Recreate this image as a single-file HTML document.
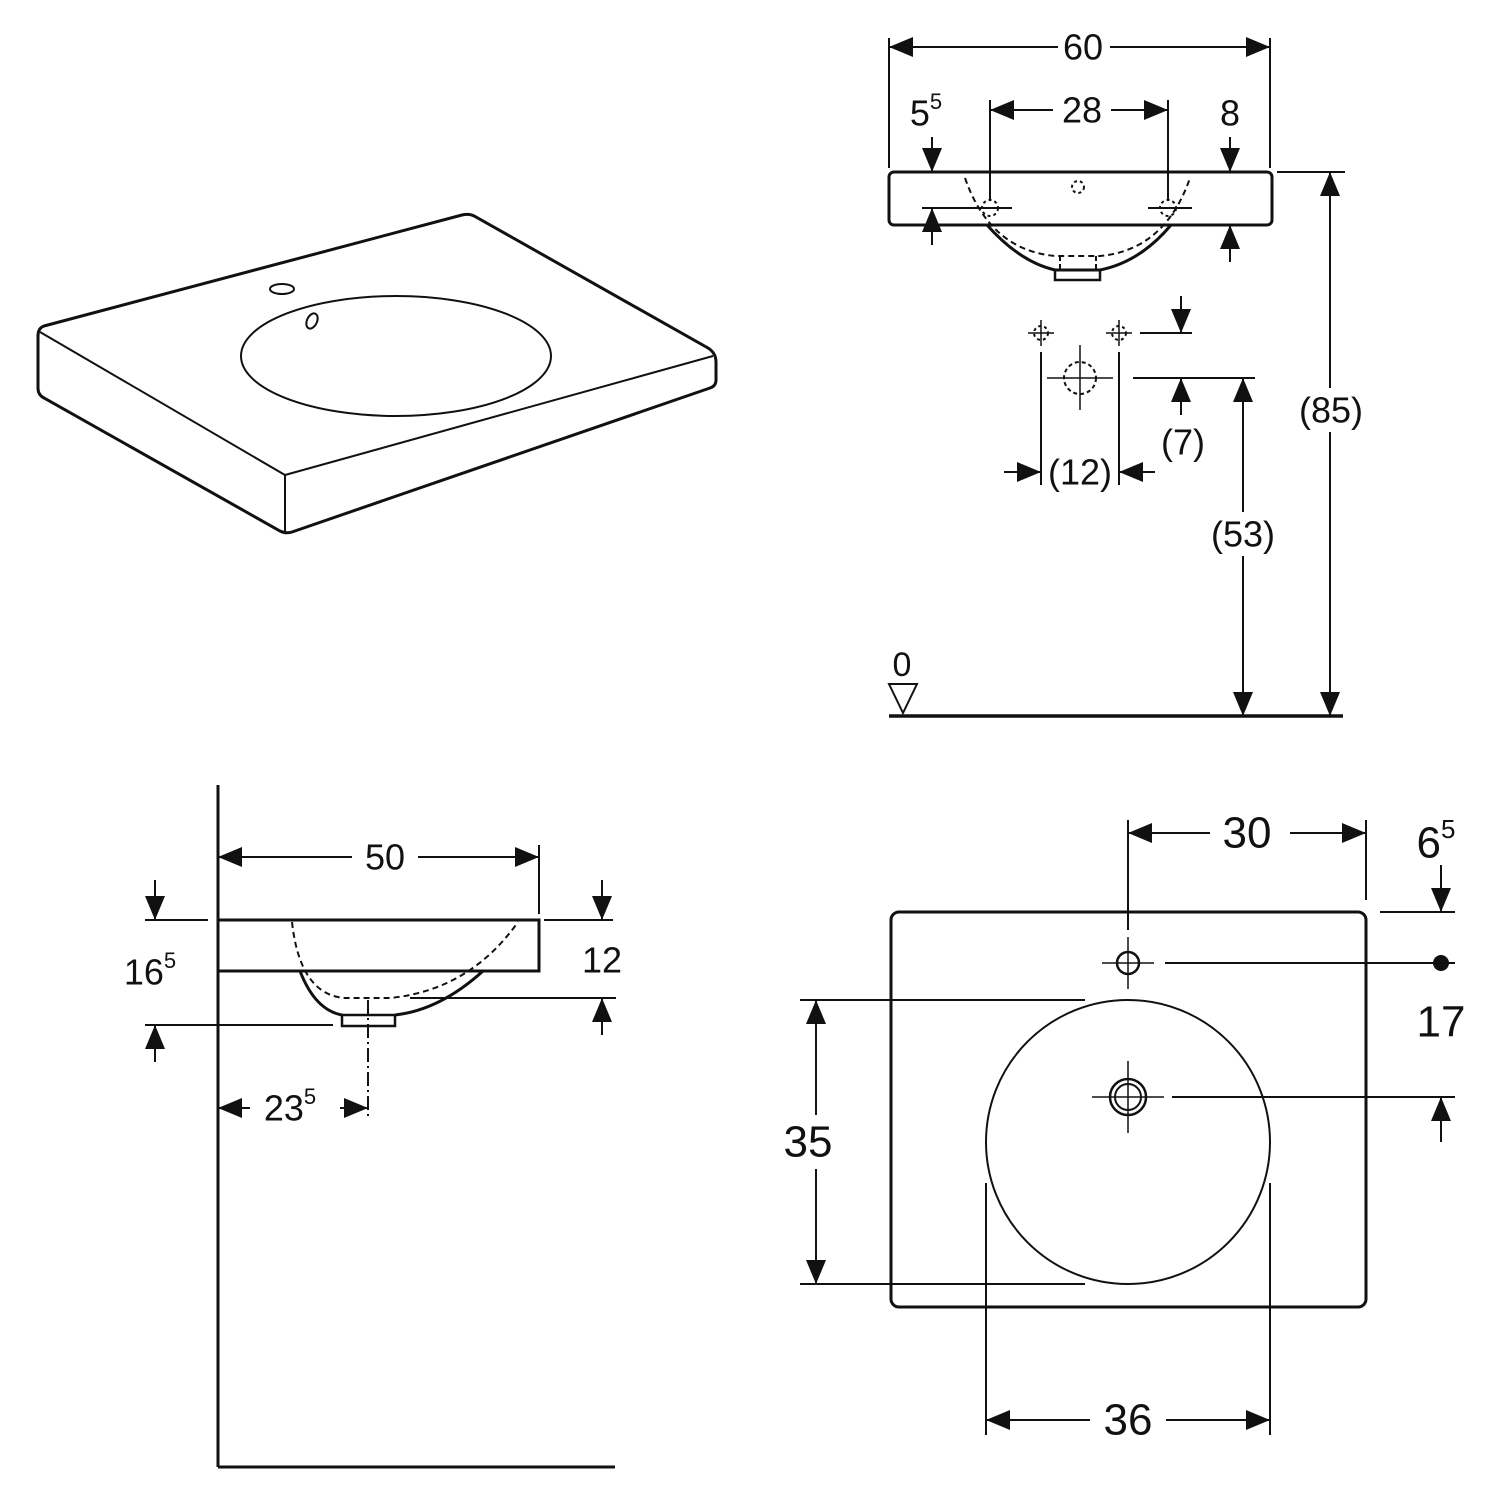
<!DOCTYPE html>
<html><head><meta charset="utf-8"><style>
html,body{margin:0;padding:0;background:#fff}
svg{display:block}
text{font-family:"Liberation Sans",sans-serif;fill:#111;text-anchor:middle;dominant-baseline:central}
</style></head><body>
<svg width="1500" height="1500" viewBox="0 0 1500 1500" xmlns="http://www.w3.org/2000/svg">
<defs>
<marker id="a" markerUnits="userSpaceOnUse" markerWidth="26" markerHeight="22" refX="24" refY="10" orient="auto-start-reverse"><path d="M0,0 L24,10 L0,20 z" fill="#111"/></marker>
</defs>
<g stroke="#111" fill="none" stroke-width="2">
<!-- isometric -->
<path d="M44,326 L462,215 Q470,213 476,217 L708,348 Q716,353 716,362 L716,380 Q716,386 710,388 L292,532 Q286,534 280,531 L44,398 Q38,395 38,388 L38,336 Q38,328 44,326 Z" stroke-width="3"/>
<path d="M40,332 L285,475 L713,356" />
<path d="M285,475 L285,533"/>
<ellipse cx="396" cy="356" rx="155" ry="60"/>
<ellipse cx="282" cy="289" rx="12" ry="5"/>
<ellipse cx="312" cy="321" rx="5" ry="8" transform="rotate(25 312 321)"/>

<!-- front view -->
<rect x="889" y="172" width="383" height="53" rx="5" stroke-width="3"/>
<path d="M987,225 Q1020,262 1055,270 L1100,270 Q1140,262 1171,225" stroke-width="3"/>
<rect x="1055" y="270" width="45" height="10" stroke-width="2.5"/>
<path d="M965,178 Q990,250 1055,256 L1100,256 Q1165,250 1190,178" stroke-dasharray="6,4"/>
<path d="M1060,256 V270 M1096,256 V270" stroke-dasharray="5,3"/>
<circle cx="1078" cy="187" r="6" stroke-dasharray="3,3"/>
<line x1="889" y1="38" x2="889" y2="168"/><line x1="1270" y1="38" x2="1270" y2="168"/>
<line x1="889" y1="47" x2="1270" y2="47" marker-start="url(#a)" marker-end="url(#a)"/>
<line x1="990" y1="100" x2="990" y2="200"/><line x1="1168" y1="100" x2="1168" y2="200"/>
<line x1="990" y1="110" x2="1168" y2="110" marker-start="url(#a)" marker-end="url(#a)"/>
<line x1="932" y1="137" x2="932" y2="172" marker-end="url(#a)"/>
<line x1="932" y1="245" x2="932" y2="208" marker-end="url(#a)"/>
<line x1="922" y1="208" x2="1012" y2="208"/>
<line x1="1148" y1="208" x2="1192" y2="208"/>
<line x1="1230" y1="137" x2="1230" y2="172" marker-end="url(#a)"/>
<line x1="1230" y1="262" x2="1230" y2="225" marker-end="url(#a)"/>
<circle cx="990" cy="208" r="8" stroke-dasharray="3,3"/><circle cx="1168" cy="208" r="8" stroke-dasharray="3,3"/>
<line x1="1277" y1="172" x2="1345" y2="172"/>
<line x1="1330" y1="172" x2="1330" y2="716" marker-start="url(#a)" marker-end="url(#a)"/>
<line x1="889" y1="716" x2="1343" y2="716" stroke-width="3.5"/>
<path d="M889,684 L917,684 L903,713 Z"/>
<line x1="1133" y1="378" x2="1255" y2="378"/>
<line x1="1243" y1="378" x2="1243" y2="716" marker-start="url(#a)" marker-end="url(#a)"/>
<line x1="1181" y1="296" x2="1181" y2="333" marker-end="url(#a)"/>
<line x1="1140" y1="333" x2="1192" y2="333"/>
<line x1="1181" y1="415" x2="1181" y2="378" marker-end="url(#a)"/>
<circle cx="1041" cy="333" r="7" stroke-dasharray="3,3"/><path d="M1028,333 H1054 M1041,320 V346" stroke-width="1.5"/>
<circle cx="1119" cy="333" r="7" stroke-dasharray="3,3"/><path d="M1106,333 H1132 M1119,320 V346" stroke-width="1.5"/>
<circle cx="1080" cy="378" r="16" stroke-dasharray="4,3"/><path d="M1047,378 H1113 M1080,345 V410" stroke-width="1.5"/>
<line x1="1041" y1="352" x2="1041" y2="485"/><line x1="1119" y1="352" x2="1119" y2="485"/>
<line x1="1004" y1="472" x2="1041" y2="472" marker-end="url(#a)"/>
<line x1="1155" y1="472" x2="1119" y2="472" marker-end="url(#a)"/>

<!-- side view -->
<line x1="218" y1="785" x2="218" y2="1467" stroke-width="3"/>
<line x1="218" y1="1467" x2="615" y2="1467" stroke-width="3"/>
<rect x="218" y="920" width="321" height="51" stroke-width="3"/>
<path d="M300,971 Q315,1010 342,1015 M395,1015 Q440,1010 483,971" stroke-width="3"/>
<rect x="342" y="1015" width="53" height="11" stroke-width="2.5"/>
<path d="M292,922 Q300,995 345,998 L390,998 Q470,990 518,922" stroke-dasharray="6,4"/>
<line x1="368" y1="1000" x2="368" y2="1118" stroke-dasharray="14,4,2,4"/>
<line x1="539" y1="845" x2="539" y2="914"/>
<line x1="218" y1="857" x2="539" y2="857" marker-start="url(#a)" marker-end="url(#a)"/>
<line x1="155" y1="880" x2="155" y2="920" marker-end="url(#a)"/>
<line x1="145" y1="920" x2="208" y2="920"/>
<line x1="155" y1="1062" x2="155" y2="1025" marker-end="url(#a)"/>
<line x1="145" y1="1025" x2="333" y2="1025"/>
<line x1="602" y1="880" x2="602" y2="920" marker-end="url(#a)"/>
<line x1="544" y1="920" x2="613" y2="920"/>
<line x1="602" y1="1035" x2="602" y2="998" marker-end="url(#a)"/>
<line x1="410" y1="998" x2="616" y2="998"/>
<line x1="218" y1="1108" x2="368" y2="1108" marker-start="url(#a)" marker-end="url(#a)"/>

<!-- top view -->
<rect x="891" y="912" width="475" height="395" rx="8" stroke-width="3"/>
<circle cx="1128" cy="1142" r="142"/>
<circle cx="1128" cy="963" r="11" stroke-width="2.5"/><path d="M1102,963 H1154 M1128,937 V989" stroke-width="1.5"/>
<circle cx="1128" cy="1097" r="18" stroke-width="2.5"/><circle cx="1128" cy="1097" r="13"/><path d="M1092,1097 H1164 M1128,1061 V1133" stroke-width="1.5"/>
<line x1="1128" y1="820" x2="1128" y2="930"/><line x1="1366" y1="820" x2="1366" y2="900"/>
<line x1="1128" y1="833" x2="1366" y2="833" marker-start="url(#a)" marker-end="url(#a)"/>
<line x1="1441" y1="865" x2="1441" y2="912" marker-end="url(#a)"/>
<line x1="1380" y1="912" x2="1455" y2="912"/>
<line x1="1165" y1="963" x2="1455" y2="963"/>
<circle cx="1441" cy="963" r="7" fill="#111"/>
<line x1="1441" y1="1142" x2="1441" y2="1097" marker-end="url(#a)"/>
<line x1="1172" y1="1097" x2="1455" y2="1097"/>
<line x1="800" y1="1000" x2="1085" y2="1000"/><line x1="800" y1="1284" x2="1085" y2="1284"/>
<line x1="816" y1="1000" x2="816" y2="1284" marker-start="url(#a)" marker-end="url(#a)"/>
<line x1="986" y1="1183" x2="986" y2="1435"/><line x1="1270" y1="1183" x2="1270" y2="1435"/>
<line x1="986" y1="1420" x2="1270" y2="1420" marker-start="url(#a)" marker-end="url(#a)"/>
</g>
<g>
<rect x="1058" y="25" width="52" height="44" fill="#fff"/><text x="1083" y="47" font-size="36">60</text>
<rect x="1053" y="88" width="58" height="44" fill="#fff"/><text x="1082" y="110" font-size="36">28</text>
<text x="926" y="113" font-size="36">5<tspan font-size="22" dy="-12">5</tspan></text>
<text x="1230" y="113" font-size="36">8</text>
<rect x="1298" y="388" width="66" height="44" fill="#fff"/><text x="1331" y="410" font-size="36">(85)</text>
<rect x="1210" y="512" width="66" height="44" fill="#fff"/><text x="1243" y="534" font-size="36">(53)</text>
<text x="1183" y="442" font-size="36">(7)</text>
<text x="1080" y="472" font-size="36">(12)</text>
<text x="902" y="665" font-size="34">0</text>
<rect x="352" y="835" width="66" height="44" fill="#fff"/><text x="385" y="857" font-size="36">50</text>
<text x="150" y="972" font-size="36">16<tspan font-size="22" dy="-12">5</tspan></text>
<text x="602" y="960" font-size="36">12</text>
<rect x="250" y="1086" width="90" height="44" fill="#fff"/><text x="290" y="1108" font-size="36">23<tspan font-size="22" dy="-12">5</tspan></text>
<rect x="1210" y="808" width="80" height="50" fill="#fff"/><text x="1247" y="833" font-size="44">30</text>
<text x="1436" y="843" font-size="44">6<tspan font-size="26" dy="-14">5</tspan></text>
<text x="1441" y="1022" font-size="44">17</text>
<rect x="778" y="1115" width="60" height="54" fill="#fff"/><text x="808" y="1142" font-size="44">35</text>
<rect x="1090" y="1395" width="76" height="50" fill="#fff"/><text x="1128" y="1420" font-size="44">36</text>
</g>
</svg>
</body></html>
